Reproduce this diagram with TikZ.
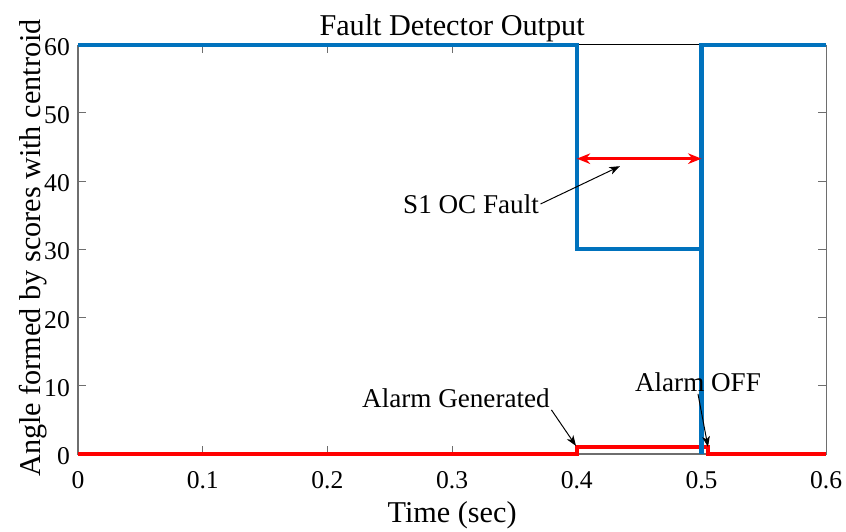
\documentclass[tikz,border=0pt]{standalone}
\usepackage{fontspec}
\setmainfont{Liberation Serif}
\usetikzlibrary{arrows.meta}
\definecolor{mblue}{RGB}{0,114,189}
\definecolor{axgray}{RGB}{110,110,110}

\begin{document}
\begin{tikzpicture}[x = 31.175cm, y = 0.1705cm,
  ticklab/.style = {font = \fontsize{18.2}{20}\selectfont, inner sep = 0pt},
  axlab/.style = {font = \fontsize{21.5}{24}\selectfont, inner sep = 0pt},
  annot/.style = {font = \fontsize{19.3}{22}\selectfont, inner sep = 1pt},
  pointer/.style = {-{Stealth[length = 7.5pt, width = 5.5pt, inset = 2pt]}, line width = 0.7pt},
  spanarrow/.style = {{Stealth[length = 9.5pt, width = 7.5pt, inset = 3pt]}-{Stealth[length = 9.5pt, width = 7.5pt, inset = 3pt]}, red, line width = 2pt},
  signal/.style = {line width = 3pt, line join = miter}]
\useasboundingbox (-0.0626,-11.44) rectangle (0.6159,66.57);
% axes box and ticks
\draw [black, line width = 0.5pt] (0,60) -- (0.6,60);
\draw [axgray, line width = 0.8pt] (0,60) -- (0,0) -- (0.6,0) -- (0.6,60);
\foreach \x in {0,0.1,0.2,0.3,0.4,0.5,0.6} {
  \draw [axgray, line width = 0.7pt] (\x,0) -- ++(0,1.17);
  \draw [axgray, line width = 0.7pt] (\x,60) -- ++(0,-1.17);
  \node [ticklab, anchor = base] at (\x,-5) {\x};
}
\foreach \y in {0,10,...,60} {
  \draw [axgray, line width = 0.7pt] (0,\y) -- ++(0.0064,0);
  \draw [axgray, line width = 0.7pt] (0.6,\y) -- ++(-0.0064,0);
  \node [ticklab, anchor = east, yshift = -1.5pt] at (-0.0064,\y) {\y};
}
% signals
\draw [signal, red] (0,0) -- (0.4,0) -- (0.4,1) -- (0.505,1) -- (0.505,0) -- (0.6,0);
\draw [signal, mblue] (0,60) -- (0.4,60) -- (0.4,30) -- (0.5,30) -- (0.5,0) -- (0.5,60) -- (0.6,60);
% labels
\node [axlab, anchor = base] (title) at (0.3,61.4) {Fault Detector Output};
\node [axlab, anchor = base] (xlab) at (0.3,-10.1) {Time (sec)};
\node [axlab, anchor = base, rotate = 90] (ylab) at (-0.0305,30.2) {Angle formed by scores with centroid};
% fault span
\coordinate (spanL) at (0.4,43.3);
\coordinate (spanR) at (0.5,43.3);
\draw [spanarrow] (spanL) -- (spanR);
% annotations
\node [annot, anchor = base] (sfault) at (0.3152,35.3) {S1 OC Fault};
\node [annot, anchor = base] (alarmgen) at (0.3031,6.74) {Alarm Generated};
\node [annot, anchor = base] (alarmoff) at (0.4972,9.09) {Alarm OFF};
\coordinate (faulttip) at (0.4346,42.2);
\coordinate (gentip) at (0.3994,1.17);
\coordinate (offtip) at (0.5052,1.03);
\draw [pointer] (sfault.east) -- (faulttip);
\draw [pointer] (alarmgen.south east) -- (gentip);
\draw [pointer] (alarmoff.south) -- (offtip);
\end{tikzpicture}
\end{document}
